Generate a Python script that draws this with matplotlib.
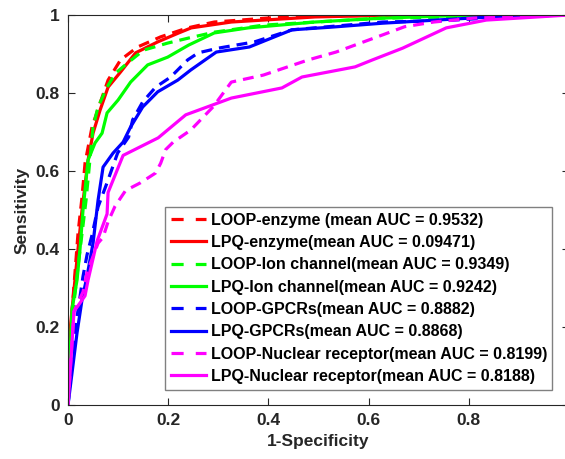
import numpy as np
import matplotlib
matplotlib.use("Agg")
from matplotlib import pyplot as plt

# ROC curves (fpr, tpr)
loop_enzyme_fpr = [0, 0.004, 0.008, 0.014, 0.020, 0.028, 0.034, 0.048, 0.064, 0.080, 0.105, 0.139, 0.185, 0.239, 0.292, 0.428, 0.60, 1.0]
loop_enzyme_tpr = [0, 0.12, 0.24, 0.34, 0.44, 0.533, 0.62, 0.713, 0.774, 0.833, 0.885, 0.918, 0.944, 0.967, 0.982, 0.995, 0.999, 1.0]

lpq_enzyme_fpr = [0, 0.004, 0.010, 0.020, 0.028, 0.040, 0.050, 0.064, 0.080, 0.105, 0.135, 0.179, 0.221, 0.246, 0.326, 0.493, 0.66, 1.0]
lpq_enzyme_tpr = [0, 0.19, 0.27, 0.40, 0.50, 0.628, 0.697, 0.756, 0.815, 0.854, 0.903, 0.931, 0.954, 0.967, 0.982, 0.995, 1.0, 1.0]

loop_ion_fpr = [0, 0.004, 0.010, 0.020, 0.028, 0.036, 0.050, 0.060, 0.078, 0.095, 0.119, 0.151, 0.199, 0.241, 0.292, 0.390, 0.560, 0.628, 1.0]
loop_ion_tpr = [0, 0.15, 0.24, 0.355, 0.44, 0.525, 0.713, 0.764, 0.815, 0.851, 0.877, 0.910, 0.928, 0.941, 0.956, 0.974, 0.987, 0.992, 1.0]

lpq_ion_fpr = [0, 0.008, 0.018, 0.024, 0.030, 0.040, 0.054, 0.068, 0.078, 0.100, 0.125, 0.159, 0.199, 0.241, 0.292, 0.360, 0.493, 0.628, 0.81, 1.0]
lpq_ion_tpr = [0, 0.245, 0.32, 0.40, 0.50, 0.628, 0.672, 0.697, 0.749, 0.782, 0.828, 0.872, 0.892, 0.923, 0.954, 0.967, 0.982, 0.992, 1.0, 1.0]

loop_gpcr_fpr = [0, 0.014, 0.030, 0.038, 0.048, 0.060, 0.078, 0.099, 0.121, 0.129, 0.149, 0.175, 0.205, 0.239, 0.260, 0.300, 0.372, 0.447, 0.628, 0.744, 0.944, 1.0]
loop_gpcr_tpr = [0, 0.19, 0.33, 0.385, 0.436, 0.508, 0.570, 0.646, 0.687, 0.731, 0.777, 0.815, 0.841, 0.885, 0.903, 0.915, 0.931, 0.962, 0.982, 0.985, 1.0, 1.0]

lpq_gpcr_fpr = [0, 0.018, 0.028, 0.038, 0.050, 0.060, 0.070, 0.090, 0.110, 0.125, 0.149, 0.179, 0.219, 0.245, 0.296, 0.362, 0.447, 0.527, 0.628, 0.708, 0.843, 1.0]
lpq_gpcr_tpr = [0, 0.185, 0.27, 0.33, 0.415, 0.525, 0.610, 0.646, 0.674, 0.713, 0.764, 0.803, 0.833, 0.859, 0.905, 0.918, 0.962, 0.969, 0.979, 0.985, 0.995, 1.0]

loop_nr_fpr = [0, 0.012, 0.030, 0.038, 0.060, 0.070, 0.080, 0.094, 0.115, 0.145, 0.175, 0.185, 0.195, 0.210, 0.245, 0.290, 0.326, 0.390, 0.480, 0.535, 0.628, 0.672, 0.730, 0.810, 1.0]
loop_nr_tpr = [0, 0.24, 0.29, 0.34, 0.415, 0.43, 0.47, 0.51, 0.55, 0.57, 0.595, 0.62, 0.655, 0.674, 0.705, 0.765, 0.828, 0.846, 0.885, 0.905, 0.949, 0.970, 0.982, 0.992, 1.0]

lpq_nr_fpr = [0, 0.012, 0.034, 0.040, 0.058, 0.078, 0.080, 0.110, 0.180, 0.235, 0.326, 0.427, 0.467, 0.573, 0.608, 0.668, 0.755, 0.835, 1.0]
lpq_nr_tpr = [0, 0.24, 0.28, 0.32, 0.42, 0.49, 0.545, 0.64, 0.685, 0.744, 0.787, 0.813, 0.841, 0.867, 0.885, 0.915, 0.967, 0.987, 1.0]

labels = [
    "LOOP-enzyme (mean AUC = 0.9532)",
    "LPQ-enzyme(mean AUC = 0.09471)",
    "LOOP-Ion channel(mean AUC = 0.9349)",
    "LPQ-Ion channel(mean AUC = 0.9242)",
    "LOOP-GPCRs(mean AUC = 0.8882)",
    "LPQ-GPCRs(mean AUC = 0.8868)",
    "LOOP-Nuclear receptor(mean AUC = 0.8199)",
    "LPQ-Nuclear receptor(mean AUC = 0.8188)",
]

curves = [
    (loop_enzyme_fpr, loop_enzyme_tpr, "#ff0000", "--"),
    (lpq_enzyme_fpr, lpq_enzyme_tpr, "#ff0000", "-"),
    (loop_ion_fpr, loop_ion_tpr, "#00ff00", "--"),
    (lpq_ion_fpr, lpq_ion_tpr, "#00ff00", "-"),
    (loop_gpcr_fpr, loop_gpcr_tpr, "#0000ff", "--"),
    (lpq_gpcr_fpr, lpq_gpcr_tpr, "#0000ff", "-"),
    (loop_nr_fpr, loop_nr_tpr, "#ff00ff", "--"),
    (lpq_nr_fpr, lpq_nr_tpr, "#ff00ff", "-"),
]

plt.rcParams['font.family'] = ['Liberation Sans', 'DejaVu Sans']
plt.rcParams['font.weight'] = 'bold'
dark = (0.15, 0.15, 0.15)

fig = plt.figure(figsize=(5.65, 4.59), dpi=100)
ax = fig.add_axes([68 / 565, 54 / 459, 501 / 565, 390 / 459])

for (fpr, tpr, col, ls), lab in zip(curves, labels):
    line, = ax.plot(fpr, tpr, color=col, linestyle=ls, linewidth=2.3, label=lab)
    if ls == "--":
        line.set_dashes((3.4, 2.2))

ax.set_xlim(0, 1)
ax.set_ylim(0, 1)
ax.set_xticks([0, 0.2, 0.4, 0.6, 0.8, 1])
ax.set_xticklabels(["0", "0.2", "0.4", "0.6", "0.8", "1"])
ax.set_yticks([0, 0.2, 0.4, 0.6, 0.8, 1])
ax.set_yticklabels(["0", "0.2", "0.4", "0.6", "0.8", "1"])
ax.tick_params(direction='in', length=5, width=0.8, top=True, right=True,
               labelsize=12.5, colors=dark, pad=6)
for s in ax.spines.values():
    s.set_color(dark)
    s.set_linewidth(0.8)

ax.set_xlabel("1-Specificity", fontsize=12.5, fontweight='bold', color=dark, labelpad=4)
ax.set_ylabel("Sensitivity", fontsize=12.5, fontweight='bold', color=dark, labelpad=4)

leg = ax.legend(loc='upper left', bbox_to_anchor=(165 / 565, 1 - 207 / 459),
                bbox_transform=fig.transFigure, borderaxespad=0,
                prop={'size': 11.5, 'weight': 'bold'}, handlelength=2.2,
                handletextpad=0.3, labelspacing=0.46, borderpad=0.35,
                fancybox=False, framealpha=1)
leg.get_frame().set_edgecolor((0.5, 0.5, 0.5))
leg.get_frame().set_linewidth(1.0)
for t in leg.get_texts():
    t.set_color((0.0, 0.0, 0.0))
# legend handles in the reference show two long dashes
for h in leg.get_lines():
    if h.get_linestyle() in ("--", (0, (3.4, 2.2))) or h.get_linestyle() != "-":
        h.set_dashes((3.8, 3.8))

fig.savefig("out.png", dpi=100)
